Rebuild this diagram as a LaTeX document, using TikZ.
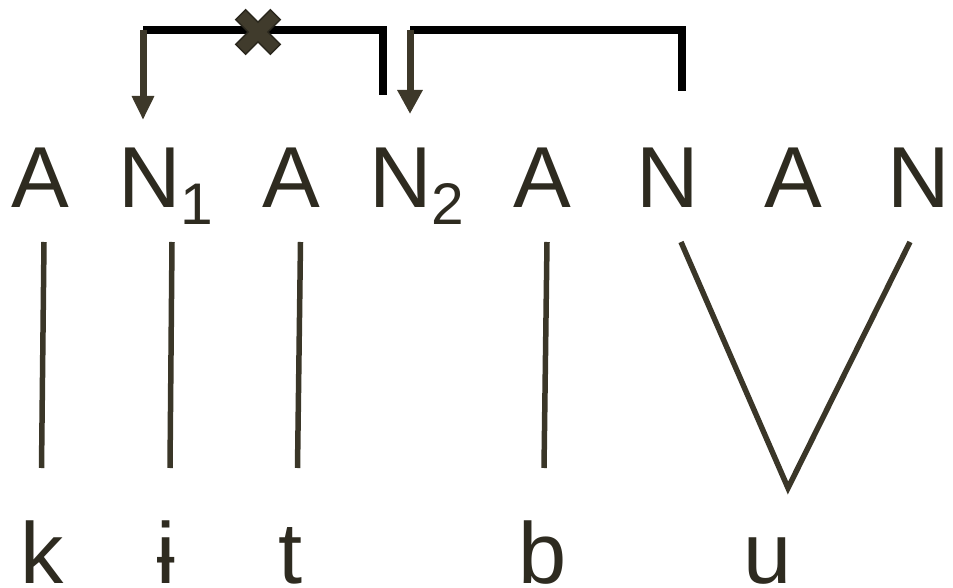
\documentclass[tikz,border=0pt]{standalone}
\usepackage{fontspec}
\setmainfont{Liberation Sans}
\usetikzlibrary{arrows.meta}
\definecolor{txt}{HTML}{2E2B20}
\definecolor{ln}{HTML}{3A3628}
\definecolor{arr}{HTML}{3D3829}
\definecolor{xf}{HTML}{403B2C}
\definecolor{xd}{HTML}{2A271D}
\newcommand{\mysubf}[1]{\raisebox{-17pt}{\fontsize{58.7}{60}\selectfont #1}}
\begin{document}
\begin{tikzpicture}[x=1pt,y=-1pt,
  lab/.style={inner sep=0pt,outer sep=0pt,text=txt,font=\fontsize{86.6}{90}\selectfont},
  seg/.style={lab,text depth=0pt},
  assoc/.style={draw=ln,line width=5.5pt,line join=miter},
  brk/.style={draw=black,line width=7.5pt,line join=miter},
  spread/.style={draw=arr,line width=7pt},
  xmark/.style={fill=xf,draw=xd,line width=1.5pt,line join=miter}
]
\useasboundingbox (0,0) rectangle (953,588);
% top tier
\node[lab,anchor=base] (A1) at (40,208) {A};
\node[lab,anchor=base west] (N1) at (118.4,208) {N\mysubf{1}};
\node[lab,anchor=base] (A2) at (291,208) {A};
\node[lab,anchor=base west] (N2) at (369.4,208) {N\mysubf{2}};
\node[lab,anchor=base] (A3) at (542,208) {A};
\node[lab,anchor=base] (N3) at (668,208) {N};
\node[lab,anchor=base] (A4) at (793,208) {A};
\node[lab,anchor=base] (N4) at (919,208) {N};
% bottom tier
\node[seg,anchor=base] (k) at (42,583) {k};
\node[seg,anchor=base] (i) at (166,583) {ɨ};
\node[seg,anchor=base] (t) at (291,583) {t};
\node[seg,anchor=base] (b) at (543,583) {b};
\node[seg,anchor=base] (u) at (768,583) {u};
% association line ends
\coordinate (A1e) at (44,242);   \coordinate (ke) at (41.5,468);
\coordinate (N1e) at (172,242);  \coordinate (ie) at (170,468);
\coordinate (A2e) at (300.5,242);\coordinate (te) at (297.5,468);
\coordinate (A3e) at (547,242);  \coordinate (be) at (544,468);
\coordinate (N3e) at (681,242);  \coordinate (ue) at (788,488);
\coordinate (N4e) at (910,242);
\draw[assoc] (A1e) -- (ke);
\draw[assoc] (N1e) -- (ie);
\draw[assoc] (A2e) -- (te);
\draw[assoc] (A3e) -- (be);
\draw[assoc] (N3e) -- (ue) -- (N4e);
% brackets and arrows
\coordinate (s1) at (383,95);  \coordinate (c1) at (383,30);
\coordinate (h1) at (143,30);  \coordinate (t1) at (143,120);
\coordinate (s2) at (682,91);  \coordinate (c2) at (682,30);
\coordinate (h2) at (410,30);  \coordinate (t2) at (410,114);
\draw[brk] (s1) -- (c1) -- (h1);
\draw[brk] (s2) -- (c2) -- (h2);
\draw[spread,-{Triangle[length=24pt,width=21pt]}] (h1) -- (t1);
\draw[spread,-{Triangle[length=24pt,width=24pt]}] (h2) -- (t2);
% blocked mark
\begin{scope}[shift={(258,32)},rotate=45]
\path[xmark] (7,7) -- (24.5,7) -- (24.5,-7) -- (7,-7) -- (7,-24.5)
  -- (-7,-24.5) -- (-7,-7) -- (-24.5,-7) -- (-24.5,7) -- (-7,7)
  -- (-7,24.5) -- (7,24.5) -- cycle;
\end{scope}
\end{tikzpicture}
\end{document}
